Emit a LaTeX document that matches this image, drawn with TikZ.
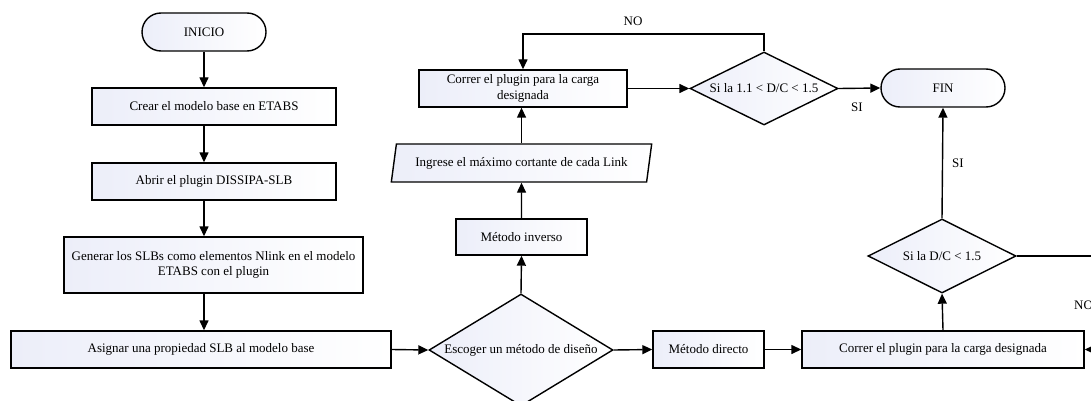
\documentclass[tikz,border=0pt]{standalone}
\usepackage{fontspec}
\setmainfont{Liberation Serif}
\usetikzlibrary{arrows.meta,shapes.geometric}
\definecolor{boxleft}{RGB}{236,238,249}
\begin{document}
\begin{tikzpicture}[x=1pt,y=-1pt,
  base/.style={draw=black, line width=1.4pt, left color=boxleft, right color=white,
    font=\fontsize{13}{15.5}\selectfont, inner sep=0pt, align=center},
  proc/.style={base, rectangle, minimum height=37pt},
  term/.style={base, rectangle, rounded corners=19pt, minimum width=124pt, minimum height=38pt},
  decis/.style={base, diamond},
  io/.style={base, trapezium, trapezium left angle=70, trapezium right angle=110,
    trapezium stretches=true, minimum width=261pt, minimum height=38pt},
  arr/.style={line width=1.4pt, -{Triangle[length=10pt,width=9pt]}},
  lbl/.style={font=\fontsize{13}{15}\selectfont, inner sep=0pt}
]
\useasboundingbox (0,0) rectangle (1091,401);
\clip (0,0) rectangle (1091,401);

% left column
\node[term] (inicio) at (204,32) {INICIO};
\node[proc, minimum width=244pt] (crear) at (214,106.5) {Crear el modelo base en ETABS};
\node[proc, minimum width=244pt] (abrir) at (214,181.5) {Abrir el plugin DISSIPA-SLB};
\node[proc, minimum width=299pt, minimum height=56pt] (generar) at (213.5,265)
  {Generar los SLBs como elementos Nlink en el modelo\\ETABS con el plugin};
\node[proc, minimum width=380pt] (asignar) at (201,349.5) {Asignar una propiedad SLB al modelo base};

% middle column
\node[decis, minimum width=184pt, minimum height=112pt] (escoger) at (521,350)
  {\makebox[0pt][c]{Escoger un método de diseño}};
\node[proc, minimum width=131pt, minimum height=36pt] (inverso) at (521.5,237) {Método inverso};
\node[io] (ingrese) at (521.5,163) {Ingrese el máximo cortante de cada Link};
\node[proc, minimum width=208pt] (correr1) at (523,88.5) {Correr el plugin para la carga\\designada};
\node[proc, minimum width=111pt] (directo) at (708.5,349.5) {Método directo};

% right column
\node[decis, minimum width=148pt, minimum height=73pt] (d2) at (764,88.5)
  {\makebox[0pt][c]{Si la 1.1 < D/C < 1.5}};
\node[term] (fin) at (943,88) {FIN};
\node[decis, minimum width=148pt, minimum height=74pt] (d3) at (942,256)
  {\makebox[0pt][c]{Si la D/C < 1.5}};
\node[proc, minimum width=282pt] (correr2) at (943,349.5) {Correr el plugin para la carga designada};

\coordinate (rt) at (1100,0);
\coordinate (topNO) at (0,34);

% connectors
\draw[arr] (inicio) -- (inicio |- crear.north);
\draw[arr] (inicio |- crear.south) -- (inicio |- abrir.north);
\draw[arr] (inicio |- abrir.south) -- (inicio |- generar.north);
\draw[arr] (inicio |- generar.south) -- (inicio |- asignar.north);
\draw[arr] (asignar.east) -- (escoger.west);
\draw[arr] (escoger.north) -- (inverso.south);
\draw[arr] (inverso.north) -- (ingrese.south);
\draw[arr] (ingrese.north) -- (ingrese.north |- correr1.south);
\draw[arr] (correr1.east) -- (d2.west);
\draw[arr] (d2.north) -- (d2.north |- topNO) -| (correr1.north);
\draw[arr] (d2.east) -- (fin.west);
\draw[arr] (escoger.east) -- (directo.west);
\draw[arr] (directo.east) -- (correr2.west);
\draw[arr] (correr2.north) -- (d3.south);
\draw[arr] (d3.north) -- (fin.south);
\draw[arr] (d3.east) -- (d3.east -| rt) |- (correr2.east);

% labels
\node[lbl] (no1) at (633,21) {NO};
\node[lbl] (si1) at (857,107) {SI};
\node[lbl] (si2) at (958,163) {SI};
\node[lbl, anchor=west] (no2) at (1074,305) {NO};
\end{tikzpicture}
\end{document}
